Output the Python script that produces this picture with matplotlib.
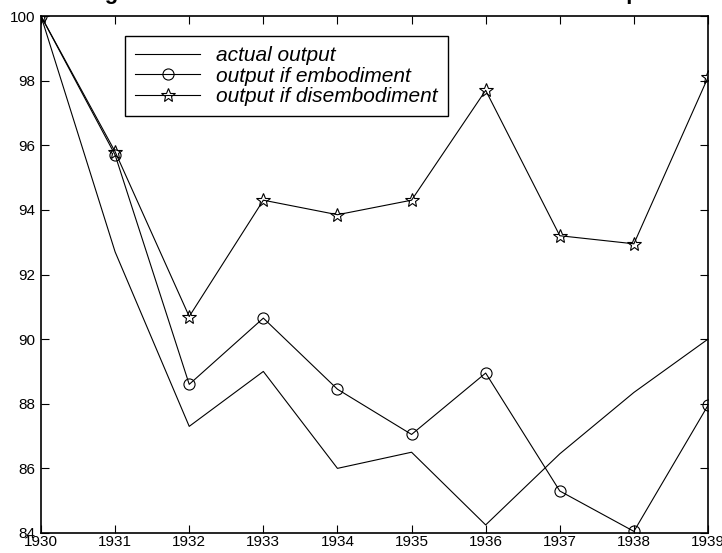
import matplotlib
matplotlib.use('Agg')
import matplotlib.pyplot as plt
from matplotlib import rcParams

rcParams['font.family'] = 'sans-serif'
rcParams['font.sans-serif'] = ['Liberation Sans', 'Arial', 'DejaVu Sans']

years = [1930, 1931, 1932, 1933, 1934, 1935, 1936, 1937, 1938, 1939]
actual = [100, 92.7, 87.3, 89.0, 86.0, 86.5, 84.25, 86.45, 88.35, 90.0]
embodiment = [100, 95.7, 88.6, 90.65, 88.45, 87.05, 88.95, 85.3, 84.05, 87.95]
disembodiment = [100, 95.8, 90.7, 94.3, 93.85, 94.3, 97.7, 93.2, 92.95, 98.1]
yticks = [84, 86, 88, 90, 92, 94, 96, 98, 100]

fig = plt.figure(figsize=(7.22, 5.53), dpi=100)
ax = fig.add_axes([41/722, 20/553, 667/722, 517/553])

ax.plot(years, actual, color='black', lw=0.8, label='actual output')
ax.plot(years, embodiment, color='black', lw=0.8, marker='o', ms=8,
        mfc='none', mec='black', mew=0.8, label='output if embodiment')
ax.plot(years, disembodiment, color='black', lw=0.8, marker='*', ms=10,
        mfc='none', mec='black', mew=0.8, label='output if disembodiment')

ax.set_xlim(1930, 1939)
ax.set_ylim(84, 100)
ax.set_xticks(years)
ax.set_yticks(yticks)
ax.tick_params(direction='in', length=6, width=0.8, top=True, right=True,
               labelsize=11)
ax.tick_params(axis='x', pad=1.5)
ax.tick_params(axis='y', pad=4)
for s in ax.spines.values():
    s.set_linewidth(1.2)
for lab in ax.get_xticklabels() + ax.get_yticklabels():
    lab.set_clip_on(False)

leg = ax.legend(loc='upper left', bbox_to_anchor=(0.126, 0.962),
                fancybox=False, framealpha=1, edgecolor='black',
                prop={'style': 'italic', 'size': 15}, handlelength=3.1,
                handletextpad=0.75, labelspacing=0.07, borderpad=0.5,
                borderaxespad=0)
leg.get_frame().set_linewidth(1.0)

# title sits above the page edge, only descenders show
fig.text(85/722, 1.001, 'Figure 4: Actual and simulated industrial sector output',
         ha='left', va='baseline', fontsize=16, fontweight='bold')

plt.savefig('out.png', dpi=100)
